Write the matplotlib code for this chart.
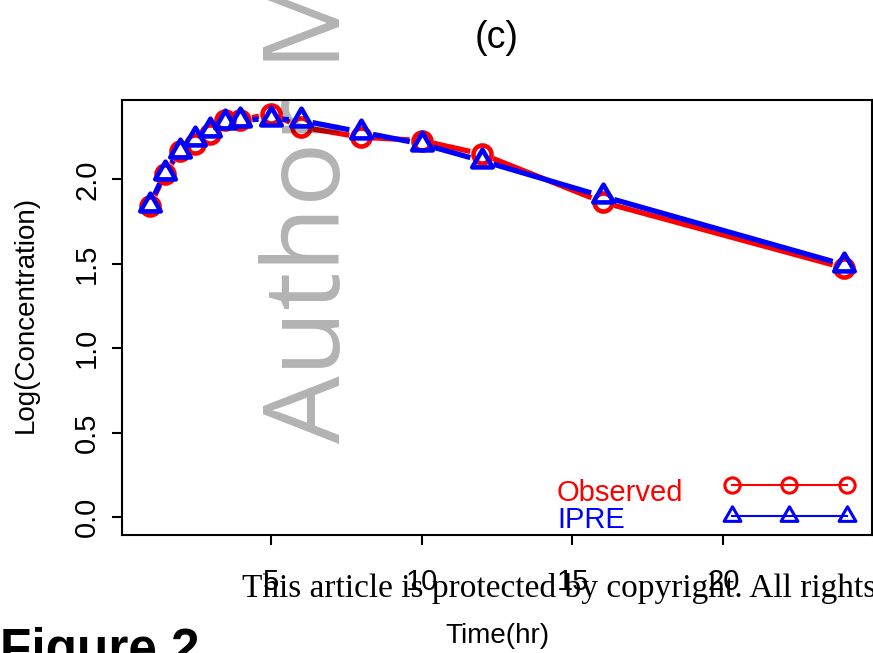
import numpy as np
import matplotlib
matplotlib.use('Agg')
import matplotlib.pyplot as plt
from matplotlib.lines import Line2D
from matplotlib.path import Path
from matplotlib.legend_handler import HandlerLine2D

# data
time_hr = [1, 1.5, 2, 2.5, 3, 3.5, 4, 5, 6, 8, 10, 12, 16, 24]
observed = [1.84, 2.03, 2.17, 2.21, 2.27, 2.35, 2.35, 2.39, 2.31, 2.25, 2.23, 2.15, 1.865, 1.476]
ipre = [1.85, 2.04, 2.17, 2.24, 2.29, 2.34, 2.35, 2.36, 2.35, 2.28, 2.21, 2.11, 1.90, 1.495]
x_ticks = [5, 10, 15, 20]
y_ticks = [0.0, 0.5, 1.0, 1.5, 2.0]
series_names = ['Observed', 'IPRE']

W, H = 873, 653
plt.rcParams['font.family'] = ['Liberation Sans', 'DejaVu Sans']

fig = plt.figure(figsize=(W / 100, H / 100), dpi=100)
ax = fig.add_axes([122 / W, 1 - 535 / H, 750 / W, 435 / H])
ax.set_xlim(0.08, 24.92)
ax.set_ylim(-0.105, 2.47)

# equilateral open triangle like R pch=2
tri = Path([(0, 1), (-0.866, -0.5), (0.866, -0.5), (0, 1)],
           [Path.MOVETO, Path.LINETO, Path.LINETO, Path.CLOSEPOLY])


def gapped_line(ax, x, y, gap_px, **kw):
    # R type="b": segments stop short of the points
    pts = ax.transData.transform(np.column_stack([x, y]))
    inv = ax.transData.inverted()
    for p0, p1 in zip(pts[:-1], pts[1:]):
        d = p1 - p0
        L = np.hypot(d[0], d[1])
        if L > 2 * gap_px:
            u = d / L
            seg = inv.transform(np.array([p0 + u * gap_px, p1 - u * gap_px]))
            ax.plot(seg[:, 0], seg[:, 1], solid_capstyle='butt', **kw)


gapped_line(ax, time_hr, observed, 12, color='red', lw=3.8, zorder=2)
ax.plot(time_hr, observed, ls='none', marker='o', ms=13, mew=3.3,
        mfc='none', mec='red', zorder=2.1)

# watermark sits between the two series
ax.text(340 / W, 1 - 443 / H, 'Author Manuscript', transform=fig.transFigure,
        rotation=90, rotation_mode='anchor', ha='left', va='baseline',
        fontsize=77, family='Open Sans', color='black', alpha=0.3,
        clip_on=False, zorder=2.4)

gapped_line(ax, time_hr, ipre, 12, color='blue', lw=3.8, zorder=3)
ax.plot(time_hr, ipre, ls='none', marker=tri, ms=17, mew=3.3,
        mfc='none', mec='blue', zorder=3.1)

for s in ax.spines.values():
    s.set_linewidth(1.5)
    s.set_zorder(4)

ax.set_xticks(x_ticks)
ax.set_yticks(y_ticks)
ax.set_xticklabels([str(t) for t in x_ticks])
ax.set_yticklabels(['%.1f' % t for t in y_ticks])
ax.tick_params(axis='both', length=7, width=1.5)
ax.tick_params(axis='x', labelsize=21, pad=17)
ax.tick_params(axis='y', labelsize=21, pad=8, labelrotation=90)
for lab in ax.get_yticklabels():
    lab.set_va('center')

ax.set_xlabel('Time(hr)', fontsize=20, va='baseline')
ax.xaxis.set_label_coords(0.5, -(643 - 535) / 435)
ax.set_ylabel('Log(Concentration)', fontsize=20, va='center')
ax.yaxis.set_label_coords(-(122 - 26) / 750, 0.506)

# legend: R style, labels on the left, left aligned, symbols on the right
handles = [
    Line2D([], [], color='red', lw=1.5, marker='o', ms=11, mew=2.2, mfc='none'),
    Line2D([], [], color='blue', lw=1.5, marker=tri, ms=14, mew=2.2, mfc='none'),
]
leg = ax.legend(handles, ['', ''], loc='lower left',
                bbox_to_anchor=(732 / W, 1 - 538 / H), bbox_transform=fig.transFigure,
                frameon=False, fontsize=10, numpoints=3,
                handlelength=115 / 13.89, handleheight=3.1,
                handletextpad=0, labelspacing=0, borderpad=0, borderaxespad=0,
                handler_map={Line2D: HandlerLine2D(marker_pad=0)})
for name, col, yb in zip(series_names, ['red', 'blue'], [501, 528]):
    ax.text(557 / W, 1 - yb / H, name, transform=fig.transFigure, color=col,
            fontsize=21, ha='left', va='baseline')

fig.text(497 / W, 1 - 38 / H, '(c)', fontsize=27, ha='center', va='center')
fig.text(242 / W, 1 - 597 / H, 'This article is protected by copyright. All rights reserved',
         fontsize=24, family='Liberation Serif', ha='left', va='baseline', zorder=10)
fig.text(0, 1 - 665 / H, 'Figure 2', fontsize=37, fontweight='bold',
         ha='left', va='baseline')

fig.savefig('out.png', dpi=100)
